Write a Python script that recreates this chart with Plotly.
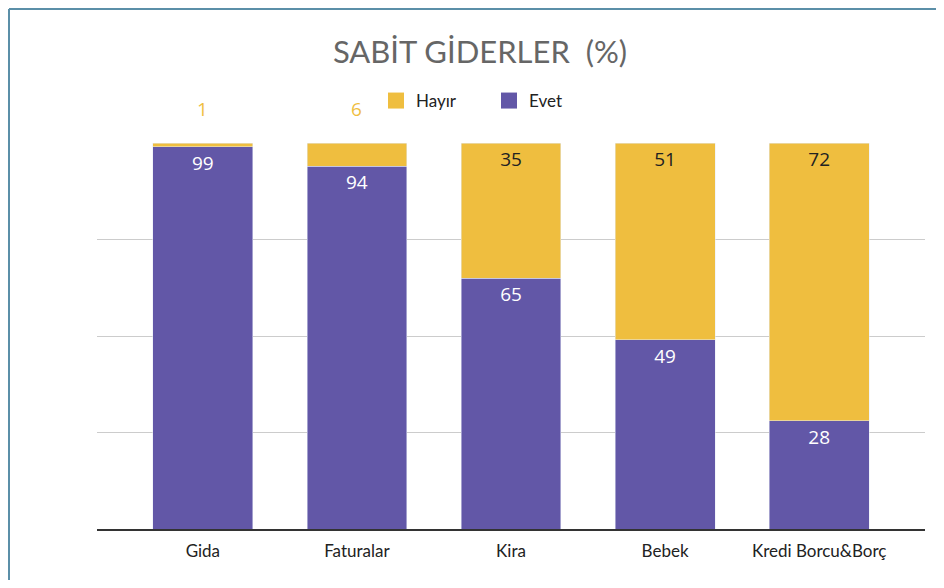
import plotly.graph_objects as go

categories = ["Gida", "Faturalar", "Kira", "Bebek", "Kredi Borcu&Borç"]
evet = [99, 94, 65, 49, 28]
hayir = [1, 6, 35, 51, 72]
yticks = [0, 25, 50, 75, 100]

YELLOW = "#EFBE3F"
PURPLE = "#6257A7"
FONT = "Lato"

# page body has an 8px margin; size figure to fit the window without scrollbars
OFF = 8
W, H = 928, 572
ML, MR, MT, MB = 97 - OFF, 11, 143 - OFF, 51

fig = go.Figure()
fig.add_trace(go.Bar(
    x=categories, y=evet, name="Evet", marker_color=PURPLE, width=0.648,
    text=[str(v) for v in evet], textposition="inside", insidetextanchor="end",
    textfont=dict(color="white", size=19, family="Open Sans"),
    textangle=0, showlegend=False,
))
hayir_pos = ["inside" if v >= 10 else "none" for v in hayir]
fig.add_trace(go.Bar(
    x=categories, y=hayir, name="Hayır", marker_color=YELLOW, width=0.648,
    text=[str(v) for v in hayir], textposition=hayir_pos, insidetextanchor="end",
    textfont=dict(color="#222222", size=19, family="Open Sans"),
    textangle=0, showlegend=False,
))
# legend entries with square swatches
for name, col in [("Hayır", YELLOW), ("Evet", PURPLE)]:
    fig.add_trace(go.Scatter(
        x=[None], y=[None], mode="markers", name=name,
        marker=dict(symbol="square", size=20, color=col),
    ))

for c, e, h in zip(categories, evet, hayir):
    if h < 10:
        fig.add_annotation(x=c, y=e + h, text=str(h), showarrow=False,
                           yshift=34, font=dict(color=YELLOW, size=19, family="Open Sans"))

pw = W - ML - MR
ph = H - MT - MB
bx = (1 - ML) / pw
by = (H - 1 - MB) / ph
fig.add_shape(type="line", xref="paper", yref="paper",
              x0=bx, x1=bx, y0=-2, y1=by,
              line=dict(color="#5B8FA8", width=2))
fig.add_shape(type="line", xref="paper", yref="paper",
              x0=bx, x1=2, y0=by, y1=by,
              line=dict(color="#5B8FA8", width=2))

fig.update_layout(
    width=W, height=H, autosize=False,
    barmode="stack",
    margin=dict(l=ML, r=MR, t=MT, b=MB),
    paper_bgcolor="white", plot_bgcolor="white",
    title=dict(text="SABİT GİDERLER  (%)", x=(480 - OFF) / W, xanchor="center",
               y=1 - (52 - OFF) / H, yanchor="middle",
               font=dict(family=FONT, size=31, color="#666666")),
    legend=dict(orientation="h", x=(376 - 97) / pw, xanchor="left",
                y=1 + (143 - 101) / ph, yanchor="middle",
                font=dict(family=FONT, size=17, color="#222222"),
                traceorder="normal", entrywidth=68, entrywidthmode="pixels"),
    showlegend=True,
    xaxis=dict(range=[-0.687, 4.687], showgrid=False, ticks="", showline=True,
               linecolor="#333333", linewidth=1.5, ticklabelstandoff=6,
               tickfont=dict(family=FONT, size=17, color="#222222")),
    yaxis=dict(range=[0, 100], tickvals=yticks, showticklabels=False, showgrid=True,
               gridcolor="#CCCCCC", gridwidth=1, zeroline=False, fixedrange=True),
    font=dict(family=FONT),
)

fig.write_html("out.html")
